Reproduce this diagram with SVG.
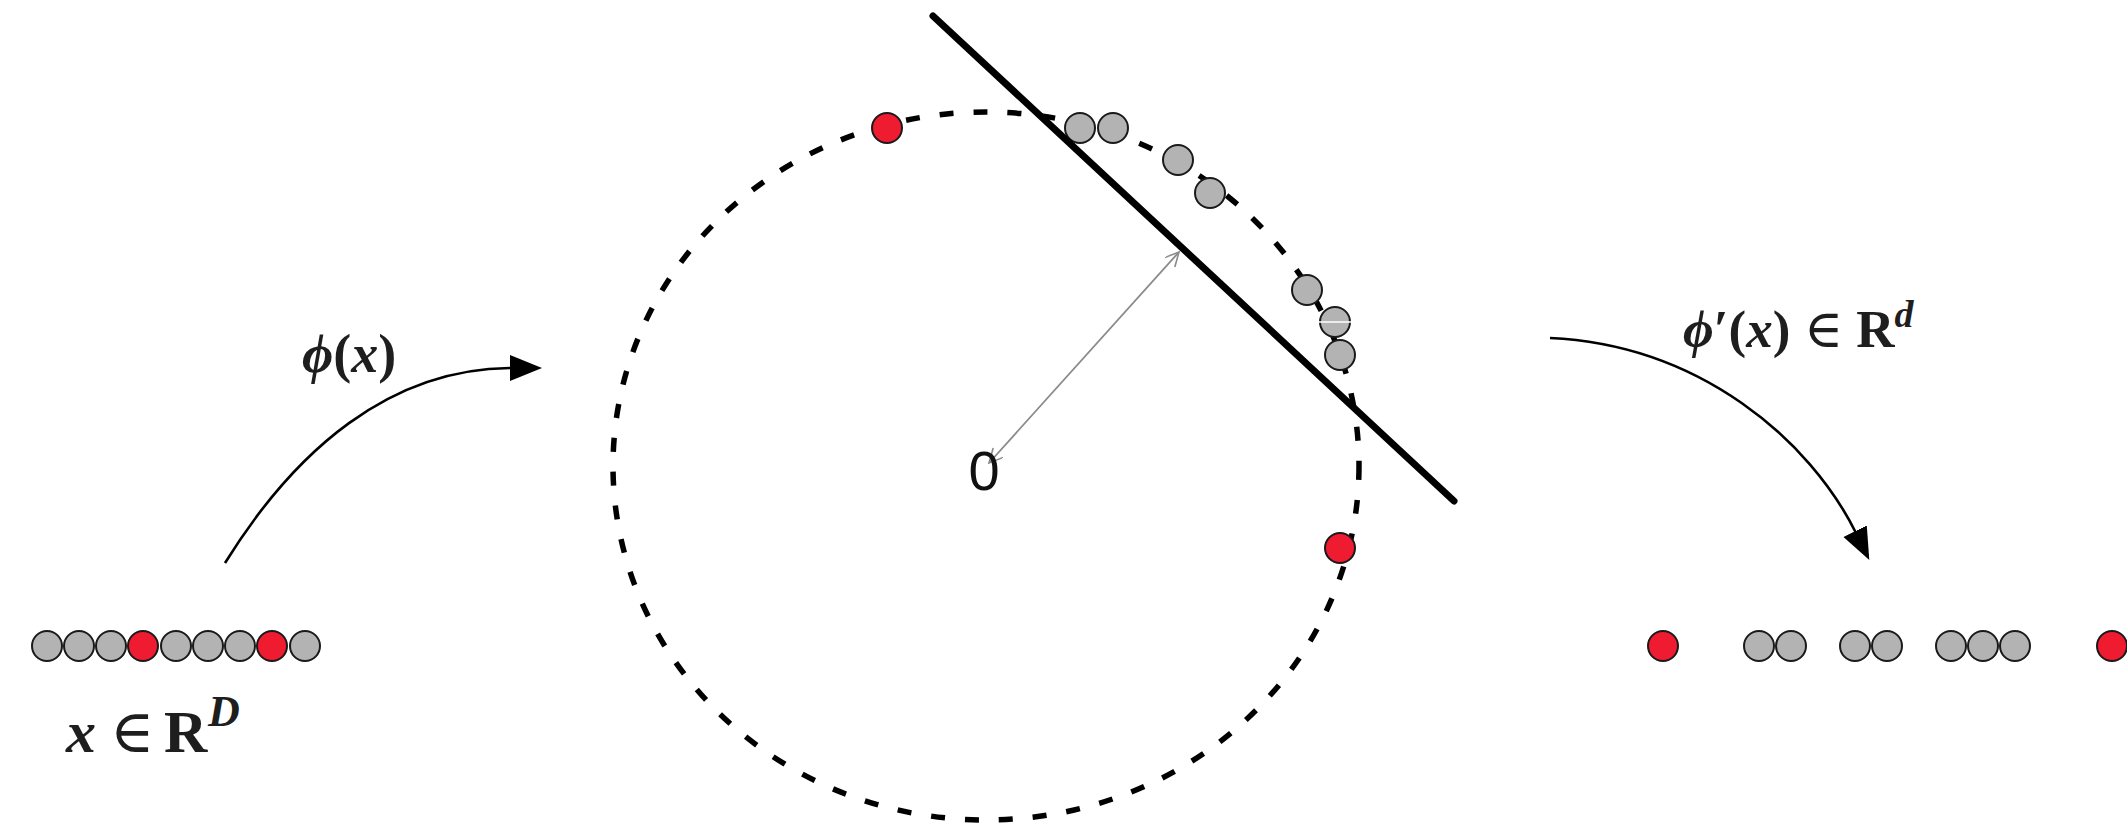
<svg xmlns="http://www.w3.org/2000/svg" width="2127" height="824" viewBox="0 0 2127 824">
  <style>
    .g { fill: #b3b3b3; stroke: #1a1a1a; stroke-width: 2; }
    .r { fill: #ef1b30; stroke: #1a1a1a; stroke-width: 2; }
    .math { font-family: "Liberation Serif", "DejaVu Serif", serif; font-weight: bold; fill: #1e1e1e; }
    .it { font-style: italic; }
    .rel { font-weight: normal; }
    .conn { fill: none; stroke: #000; stroke-width: 2.6; }
  </style>
  <defs>
    <marker id="ah" markerUnits="userSpaceOnUse" markerWidth="34" markerHeight="28" refX="2" refY="13" orient="auto" viewBox="0 0 34 28">
      <path d="M0,0 L32,13 L0,26 z" fill="#000"/>
    </marker>
    <marker id="open" markerUnits="userSpaceOnUse" markerWidth="16" markerHeight="16" refX="14" refY="7" orient="auto-start-reverse" viewBox="0 0 16 16">
      <path d="M0,0 L14,7 L0,14" fill="none" stroke="#8a8a8a" stroke-width="1.6"/>
    </marker>
  </defs>
  <rect width="2127" height="824" fill="#fff"/>

  <g id="sphere">
    <ellipse cx="986" cy="466" rx="373" ry="354" fill="none" stroke="#000" stroke-width="5.5" stroke-dasharray="14 20"/>
  </g>

  <g id="input-points">
    <circle class="g" cx="47" cy="646" r="15"/>
    <circle class="g" cx="79" cy="646" r="15"/>
    <circle class="g" cx="111" cy="646" r="15"/>
    <circle class="r" cx="143" cy="646" r="15"/>
    <circle class="g" cx="176" cy="646" r="15"/>
    <circle class="g" cx="208" cy="646" r="15"/>
    <circle class="g" cx="240" cy="646" r="15"/>
    <circle class="r" cx="272" cy="646" r="15"/>
    <circle class="g" cx="305" cy="646" r="15"/>
  </g>

  <g id="sphere-points">
    <circle class="r" cx="887" cy="128" r="15"/>
    <circle class="g" cx="1080" cy="128" r="15"/>
    <circle class="g" cx="1113" cy="128" r="15"/>
    <circle class="g" cx="1178" cy="160" r="15"/>
    <circle class="g" cx="1210" cy="193" r="15"/>
    <circle class="g" cx="1307" cy="290" r="15"/>
    <circle class="g" cx="1335" cy="322" r="15"/>
    <line x1="1318" y1="322" x2="1353" y2="322" stroke="#fff" stroke-width="1.5"/>
    <circle class="g" cx="1340" cy="355" r="15"/>
    <circle class="r" cx="1340" cy="548" r="15"/>
  </g>

  <g id="hyperplane">
    <line x1="933" y1="16" x2="1454" y2="501" stroke="#000" stroke-width="7" stroke-linecap="round"/>
  </g>

  <g id="output-points">
    <circle class="r" cx="1663" cy="646" r="15"/>
    <circle class="g" cx="1759" cy="646" r="15"/>
    <circle class="g" cx="1791" cy="646" r="15"/>
    <circle class="g" cx="1855" cy="646" r="15"/>
    <circle class="g" cx="1887" cy="646" r="15"/>
    <circle class="g" cx="1951" cy="646" r="15"/>
    <circle class="g" cx="1983" cy="646" r="15"/>
    <circle class="g" cx="2015" cy="646" r="15"/>
    <circle class="r" cx="2112" cy="646" r="15"/>
  </g>

  <g id="connectors">
    <path class="conn" d="M225,563 C295,450 390,368 512,368" marker-end="url(#ah)"/>
    <path class="conn" d="M1550,338 C1700,345 1810,440 1856,533" marker-end="url(#ah)"/>
    <line x1="989" y1="463" x2="1179" y2="252" stroke="#8a8a8a" stroke-width="1.8" marker-start="url(#open)" marker-end="url(#open)"/>
  </g>

  <g id="origin-label">
    <text x="984" y="490" font-family="Liberation Sans, Arial, sans-serif" font-size="56" text-anchor="middle" fill="#111">0</text>
  </g>

  <g id="label-input">
    <text class="math" x="66" y="752" font-size="60"><tspan class="it">x</tspan><tspan class="rel" x="110">∈</tspan><tspan x="164">R</tspan><tspan class="it" x="208" y="726" font-size="44">D</tspan></text>
  </g>

  <g id="label-phi">
    <text class="math" x="302" y="372" font-size="54"><tspan class="it">ϕ</tspan>(<tspan class="it">x</tspan>)</text>
  </g>

  <g id="label-phi-prime">
    <text class="math" x="1683" y="347" font-size="53"><tspan class="it">ϕ</tspan>′(<tspan class="it">x</tspan>) <tspan class="rel">∈</tspan> R<tspan class="it" font-size="38" dy="-20">d</tspan></text>
  </g>
</svg>
